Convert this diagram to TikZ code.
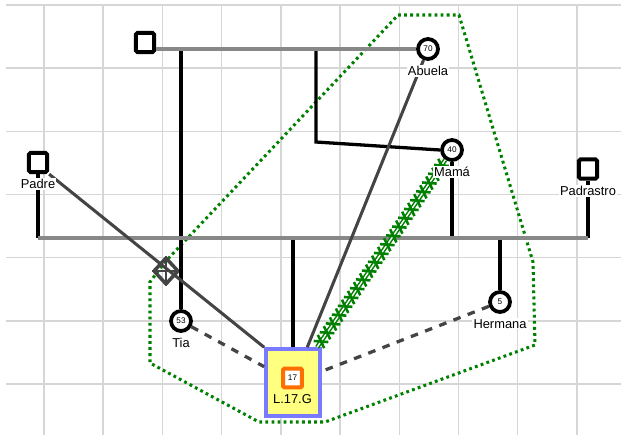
\documentclass[tikz,border=0pt]{standalone}
\usepackage{fontspec}
\setmainfont{Liberation Sans}
\usepackage{xcolor}
\usetikzlibrary{positioning,shapes.geometric,decorations.markings}
\definecolor{gridgray}{RGB}{214,214,214}
\definecolor{tiegray}{RGB}{136,136,136}
\definecolor{linkgray}{RGB}{68,68,68}
\definecolor{hostilegreen}{RGB}{0,128,0}
\definecolor{indexblue}{RGB}{122,122,255}
\definecolor{indexfill}{RGB}{255,255,128}
\definecolor{ageorange}{RGB}{255,110,0}

\begin{document}
\begin{tikzpicture}[x=0.03cm, y=-0.03cm,
  male/.style={draw, line width=3.4pt, rounded corners=1.5pt, fill=white,
    minimum width=0.55cm, minimum height=0.58cm, inner sep=0pt},
  female/.style={draw, circle, line width=3.2pt, fill=white, minimum size=0.6cm,
    inner sep=0pt, font=\fontsize{7}{8}\selectfont},
  tag/.style={fill=white, inner sep=1pt, font=\fontsize{11}{13}\selectfont,
    below=0.12cm of #1},
  tie/.style={tiegray, line width=3.6pt},
  descent/.style={black, line width=2.8pt},
  link/.style={linkgray, line width=2.6pt},
  distant/.style={linkgray, line width=2.8pt, dash pattern=on 6.5pt off 6.5pt},
  household/.style={hostilegreen, line width=2.6pt, dash pattern=on 2.4pt off 2.8pt},
  hostile/.style={hostilegreen, line width=1.3pt, double=white, double distance=1.2pt,
    postaction={decorate}, decoration={markings,
      mark=between positions 0.03 and 0.99 step 0.32cm with {
        \draw[hostilegreen, line width=2.2pt]
          (-0.11cm,-0.19cm) -- (0.11cm,0.19cm) (-0.11cm,0.19cm) -- (0.11cm,-0.19cm);}}}]
  \useasboundingbox (0,0) rectangle (621,435);
  % grid
  \foreach \gx in {0,...,9}
    \draw[gridgray, line width=1.2pt] ({44+59.2*\gx},4) -- ({44+59.2*\gx},435);
  \foreach \gy in {0,...,6}
    \draw[gridgray, line width=1.2pt] (6,{4.8+63.2*\gy}) -- (621,{4.8+63.2*\gy});
  % household
  \draw[household] (398,15) -- (459,15) -- (533,262) -- (535,345) -- (325,422)
    -- (259,422) -- (150,363) -- (150,282) -- (164,263) -- cycle;

  % people
  \node[male] (abuelo) at (145,42.5) {};
  \node[female] (abuela) at (428,49) {70};
  \node[female] (mama) at (452,150) {40};
  \node[male] (padre) at (38,162.5) {};
  \node[male] (padrastro) at (588,169) {};
  \node[female] (tia) at (181,321) {53};
  \node[female] (hermana) at (500,302) {5};
  \node[draw=indexblue, fill=indexfill, line width=3.2pt, minimum width=1.62cm,
    minimum height=2.0cm] (lg) at (293,382.5) {};
  \node[draw=ageorange, fill=white, line width=3.4pt, minimum size=0.56cm, inner sep=0pt,
    rounded corners=1pt, font=\fontsize{7}{8}\selectfont] (lgage) at (292.5,378) {17};
  \node[draw=linkgray, diamond, line width=3pt, rounded corners=1pt, minimum width=0.76cm,
    minimum height=0.82cm, inner sep=0pt] (loss) at (166,271) {};
  \draw[linkgray, line width=1pt] (loss.north) -- (loss.south) (loss.west) -- (loss.east);

  \coordinate (mline) at (0,238);
  \coordinate (bend) at (316,142);

  % descent lines
  \draw[descent] (tia.north) -- (tia.north |- abuela);
  \draw[descent] (bend |- abuela) -- (bend) -- (mama.west);
  \draw[descent] (padre.south) -- (padre.south |- mline);
  \draw[descent] (padrastro.south) -- (padrastro.south |- mline);
  \draw[descent] (mama.south) -- (mama.south |- mline);
  \draw[descent] (lg.north) -- (lg.north |- mline);
  \draw[descent] (hermana.north) -- (hermana.north |- mline);
  % couples
  \draw[tie] (abuelo.east |- abuela) -- (abuela.west);
  \draw[tie] (padre.south |- mline) -- (padrastro.south |- mline);

  % relations
  \draw[link] (padre.south east) -- (lg.north west);
  \draw[link] (abuela) -- (lg);
  \draw[distant] (tia) -- (lg);
  \draw[distant] (hermana) -- (lg);
  \draw[hostile] (mama) -- (lg);

  % names
  \node[tag=abuela] (abuelaTxt) {Abuela};
  \node[tag=mama] (mamaTxt) {Mamá};
  \node[tag=padre] (padreTxt) {Padre};
  \node[tag=padrastro] (padrastroTxt) {Padrastro};
  \node[tag=tia] (tiaTxt) {Tia};
  \node[tag=hermana] (hermanaTxt) {Hermana};
  \node[tag=lgage, fill=none] (lgTxt) {L.17.G};
\end{tikzpicture}
\end{document}
